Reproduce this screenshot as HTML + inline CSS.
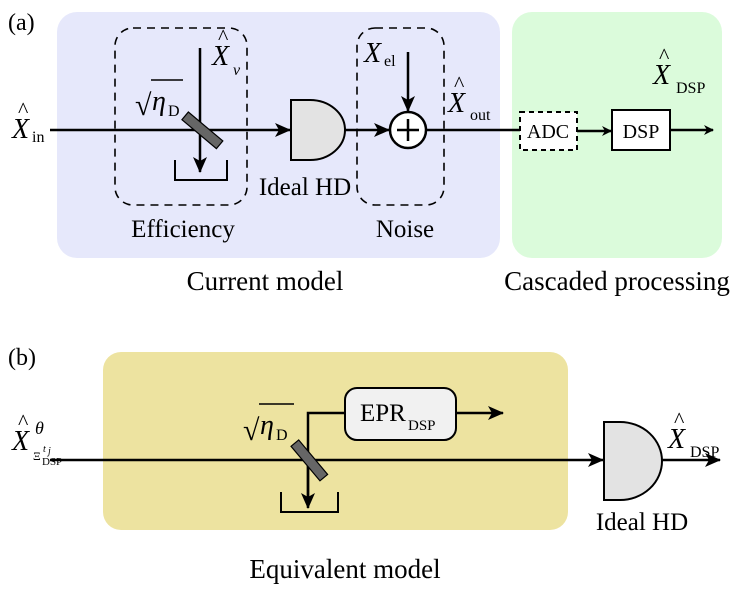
<!DOCTYPE html>
<html><head><style>body{margin:0;background:#fff}svg{display:block}text{font-family:"Liberation Serif",serif;fill:#000}</style></head><body>
<svg width="747" height="591" viewBox="0 0 747 591" xmlns="http://www.w3.org/2000/svg">
<defs><marker id="ar" markerWidth="10" markerHeight="10" refX="9" refY="5" orient="auto" markerUnits="userSpaceOnUse"><path d="M0,0 L10,5 L0,10 L3,5 z" fill="#000"/></marker>
<marker id="ab" markerWidth="16" markerHeight="14" refX="15" refY="7" orient="auto" markerUnits="userSpaceOnUse"><path d="M0,0 L16,7 L0,14 L4,7 z" fill="#000"/></marker></defs>
<rect x="57" y="12" width="443" height="246" rx="20" fill="#e6e8fb"/>
<rect x="512" y="12" width="210" height="246" rx="20" fill="#dbfbdb"/>
<text x="8" y="30" font-size="24">(a)</text>
<rect x="115" y="28" width="132" height="177" rx="18" fill="none" stroke="#000" stroke-width="1.6" stroke-dasharray="8,6"/>
<rect x="357" y="28" width="87" height="177" rx="18" fill="none" stroke="#000" stroke-width="1.6" stroke-dasharray="8,6"/>
<line x1="50" y1="130" x2="290" y2="130" stroke="#000" stroke-width="2.5" marker-end="url(#ab)"/>
<line x1="200" y1="48" x2="200" y2="172" stroke="#000" stroke-width="2.5" marker-end="url(#ab)"/>
<path d="M175,160 V180 H227 V160" fill="none" stroke="#000" stroke-width="2"/>
<rect x="180" y="125" width="45" height="10" fill="#666" stroke="#000" stroke-width="1.2" transform="rotate(40 202 130)"/>
<path d="M291,100 H310 A35,30 0 0 1 310,160 H291 Z" fill="#e3e3e3" stroke="#000" stroke-width="2"/>
<line x1="345" y1="130" x2="389" y2="130" stroke="#000" stroke-width="2.5" marker-end="url(#ab)"/>
<circle cx="408" cy="130" r="18" fill="#fff" stroke="#000" stroke-width="2.5"/>
<path d="M397,130 H419 M408,119 V141" stroke="#000" stroke-width="2.5"/>
<line x1="408" y1="52" x2="408" y2="111" stroke="#000" stroke-width="2.5" marker-end="url(#ab)"/>
<line x1="426" y1="130" x2="520" y2="130" stroke="#000" stroke-width="2.5"/>
<rect x="520" y="112" width="57" height="38" fill="#fff" stroke="#000" stroke-width="2" stroke-dasharray="5,4"/>
<text x="548" y="138" font-size="20" text-anchor="middle">ADC</text>
<line x1="577" y1="131" x2="611" y2="131" stroke="#000" stroke-width="2.5" marker-end="url(#ar)"/>
<rect x="612" y="110" width="58" height="40" fill="#fff" stroke="#000" stroke-width="2"/>
<text x="641" y="138" font-size="20" text-anchor="middle">DSP</text>
<line x1="670" y1="130" x2="713" y2="130" stroke="#000" stroke-width="2.5" marker-end="url(#ar)"/>
<text x="12" y="138" font-size="28" font-style="italic">X</text><text x="18" y="117" font-size="22">^</text><text x="32" y="142" font-size="16">in</text>
<text x="212" y="65" font-size="28" font-style="italic">X</text><text x="218" y="44" font-size="22">^</text><text x="233" y="75" font-size="16" font-style="italic">v</text>
<text x="135" y="115" font-size="30">√</text><line x1="151" y1="80" x2="183" y2="80" stroke="#000" stroke-width="1.5"/><text x="152" y="110" font-size="28" font-style="italic">η</text><text x="168" y="116" font-size="16">D</text>
<text x="364" y="62" font-size="28" font-style="italic">X</text><text x="384" y="66" font-size="16">el</text>
<text x="448" y="112" font-size="28" font-style="italic">X</text><text x="454" y="91" font-size="22">^</text><text x="470" y="120" font-size="16">out</text>
<text x="653" y="84" font-size="28" font-style="italic">X</text><text x="659" y="63" font-size="22">^</text><text x="676" y="93" font-size="16">DSP</text>
<text x="305" y="195" font-size="25" text-anchor="middle">Ideal HD</text>
<text x="183" y="237" font-size="25" text-anchor="middle">Efficiency</text>
<text x="405" y="237" font-size="25" text-anchor="middle">Noise</text>
<text x="265" y="290" font-size="27" text-anchor="middle">Current model</text>
<text x="617" y="290" font-size="27" text-anchor="middle">Cascaded processing</text>

<text x="8" y="365" font-size="24">(b)</text>
<rect x="103" y="352" width="465" height="178" rx="18" fill="#ede3a0"/>
<line x1="50" y1="460" x2="603" y2="460" stroke="#000" stroke-width="2.5" marker-end="url(#ab)"/>
<path d="M308,505 V413 H345" fill="none" stroke="#000" stroke-width="2.5"/>
<line x1="308" y1="460" x2="308" y2="508" stroke="#000" stroke-width="2.5" marker-end="url(#ab)"/>
<path d="M281,492 V512 H338 V492" fill="none" stroke="#000" stroke-width="2"/>
<rect x="287" y="455" width="45" height="10" fill="#666" stroke="#000" stroke-width="1.2" transform="rotate(50 309 460)"/>
<rect x="345" y="388" width="111" height="52" rx="12" fill="#f1f1f1" stroke="#000" stroke-width="2"/>
<text x="360" y="421" font-size="25">EPR</text><text x="408" y="430" font-size="15">DSP</text>
<line x1="456" y1="413" x2="503" y2="413" stroke="#000" stroke-width="2.5" marker-end="url(#ab)"/>
<path d="M604,422 H620 A42,39 0 0 1 620,500 H604 Z" fill="#e3e3e3" stroke="#000" stroke-width="2"/>
<line x1="662" y1="460" x2="720" y2="460" stroke="#000" stroke-width="2.5" marker-end="url(#ab)"/>
<text x="668" y="448" font-size="28" font-style="italic">X</text><text x="674" y="427" font-size="22">^</text><text x="690" y="457" font-size="16">DSP</text>
<text x="12" y="450" font-size="28" font-style="italic">X</text><text x="18" y="429" font-size="22">^</text><text x="35" y="434" font-size="18" font-style="italic">θ</text>
<text x="33" y="460" font-size="12">Ξ</text><text x="43" y="452" font-size="10" font-style="italic">t</text><text x="48" y="454" font-size="10" font-style="italic">j</text><text x="42" y="465" font-size="11">DSP</text>
<text x="243" y="440" font-size="30">√</text><line x1="259" y1="404" x2="294" y2="404" stroke="#000" stroke-width="1.5"/><text x="260" y="434" font-size="28" font-style="italic">η</text><text x="276" y="440" font-size="16">D</text>
<text x="642" y="530" font-size="25" text-anchor="middle">Ideal HD</text>
<text x="345" y="578" font-size="27" text-anchor="middle">Equivalent model</text>
</svg>
</body></html>
